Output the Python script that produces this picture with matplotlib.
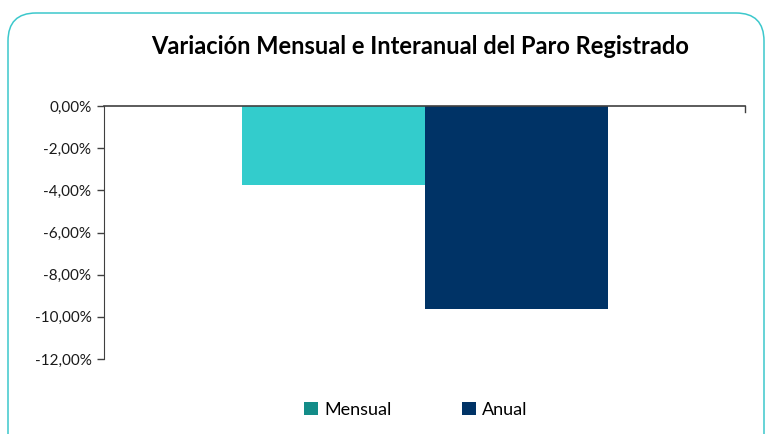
import matplotlib
matplotlib.use("Agg")
from matplotlib import pyplot as plt
from matplotlib.patches import FancyBboxPatch, Patch
from matplotlib.ticker import FuncFormatter

plt.rcParams['font.family'] = ['Lato', 'DejaVu Sans']

# datos
series = ['Mensual', 'Anual']
valores = [-3.74, -9.62]
colores_barra = ['#33CCCC', '#003366']
colores_leyenda = ['#138C88', '#003366']
yticks = [0, -2, -4, -6, -8, -10, -12]

W, H = 765, 434
fig = plt.figure(figsize=(W / 100, H / 100), dpi=100)

# marco redondeado (en pulgadas)
marco = FancyBboxPatch((0.08, -0.4), (764 - 8) / 100, (H - 13) / 100 + 0.4,
                       boxstyle="round,pad=0,rounding_size=0.28",
                       transform=fig.dpi_scale_trans, fill=False,
                       edgecolor='#3CC8CC', linewidth=1.1, clip_on=False)
fig.patches.append(marco)

ax = fig.add_axes([104 / W, 1 - 359 / H, (745 - 104) / W, (359 - 106) / H])

ancho = 183 / 641
xs = [-ancho / 2, ancho / 2]
ax.bar(xs, valores, width=ancho, color=colores_barra, linewidth=0)

ax.set_xlim(-0.5, 0.5)
ax.set_ylim(-12, 0)
ax.set_yticks(yticks)
ax.yaxis.set_major_formatter(FuncFormatter(lambda v, p: f"{v:.2f}%".replace('.', ',')))
ax.tick_params(axis='y', direction='out', length=5, width=1, color='#404040',
               labelsize=11, labelcolor='#1a1a1a', pad=4)
ax.set_xticks([])
for s in ['right', 'bottom']:
    ax.spines[s].set_visible(False)
ax.spines['left'].set_color('#404040')
ax.spines['top'].set_color('#404040')
ax.spines['top'].set_linewidth(1.2)
# marca al final del eje de categorias
ax.plot([0.5, 0.5], [0, -0.3], color='#404040', lw=1, clip_on=False)

fig.text(420 / W, 1 - 46 / H, 'Variación Mensual e Interanual del Paro Registrado',
         ha='center', va='center', fontsize=17, fontweight='bold', color='#000000')

handles = [Patch(facecolor=c, edgecolor='none', label=l) for c, l in zip(colores_leyenda, series)]
fig.legend(handles=handles, loc='center', bbox_to_anchor=(416 / W, 1 - 410 / H),
           ncol=2, frameon=False, fontsize=13, handlelength=0.75, handleheight=0.75,
           handletextpad=0.35, columnspacing=3.9)

fig.savefig('out.png', dpi=100)
